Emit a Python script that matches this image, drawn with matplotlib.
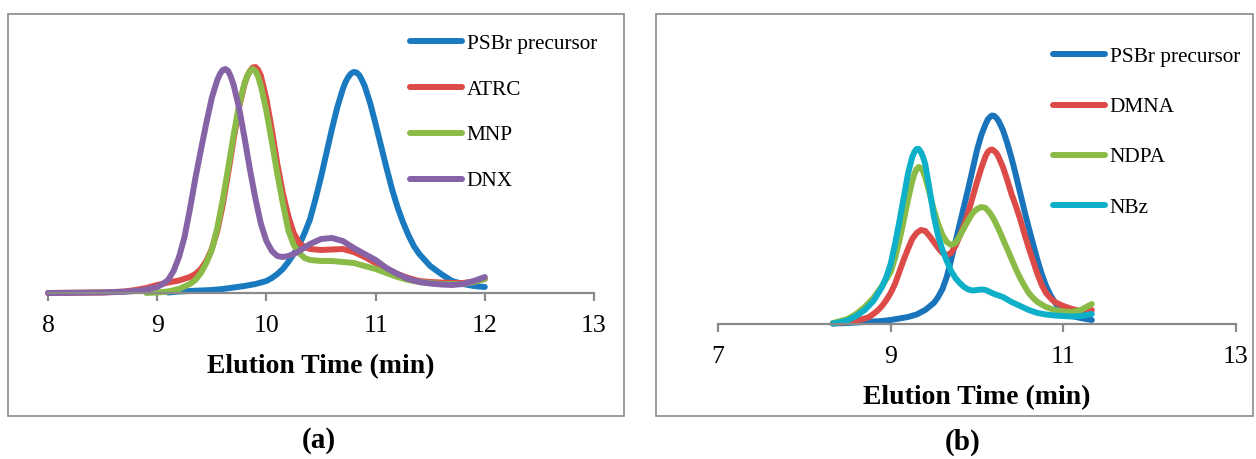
import matplotlib
matplotlib.use("Agg")
import matplotlib.pyplot as plt
from matplotlib.patches import Rectangle

plt.rcParams['font.family'] = ['Liberation Serif', 'DejaVu Serif']

# ---------------- Panel (a) data ----------------
a_labels = ["PSBr precursor", "ATRC", "MNP", "DNX"]

a_psbr_x = [9.1, 9.2, 9.3, 9.4, 9.5, 9.6, 9.7, 9.8, 9.9, 10.0, 10.05, 10.1, 10.15, 10.2, 10.25,
            10.3, 10.35, 10.4, 10.45, 10.5, 10.55, 10.6, 10.65, 10.7, 10.725, 10.75, 10.775, 10.8,
            10.825, 10.85, 10.875, 10.9, 10.95, 11.0, 11.05, 11.1, 11.15, 11.2, 11.25, 11.3, 11.35,
            11.4, 11.5, 11.6, 11.7, 11.8, 11.9, 12.0]
a_psbr_y = [0.5, 1.5, 2, 2.5, 3, 4, 5.5, 7, 9, 12, 15, 19, 24, 31, 39,
            48, 60, 74, 94, 116, 140, 164, 186, 204, 211, 216, 219.5, 221,
            220.5, 218, 213, 207, 190, 169, 147, 125, 104, 86, 71, 58, 47,
            39, 27, 19, 12, 9, 7, 6]

a_atrc_x = [8.0, 8.5, 8.7, 8.8, 8.9, 9.0, 9.1, 9.2, 9.3, 9.35, 9.4, 9.45, 9.5, 9.55, 9.6, 9.65,
            9.7, 9.75, 9.8, 9.825, 9.85, 9.875, 9.9, 9.925, 9.95, 10.0, 10.05, 10.1, 10.15, 10.2,
            10.25, 10.3, 10.35, 10.4, 10.5, 10.6, 10.7, 10.8, 10.9, 11.0, 11.1, 11.2, 11.3, 11.4,
            11.5, 11.6, 11.7, 11.8, 11.9, 12.0]
a_atrc_y = [0, 0.5, 1.5, 3, 5, 8, 10.5, 12.5, 16, 19, 24, 32, 44, 62, 88, 120,
            154, 186, 209, 217, 222, 225.5, 226, 223, 217, 194, 163, 129, 100, 77,
            60, 50, 46, 44, 43, 43.5, 44, 41, 36, 30, 24, 19, 15, 12,
            11, 10.5, 10, 10, 11.5, 14]

a_mnp_x = [8.9, 9.0, 9.1, 9.2, 9.3, 9.35, 9.4, 9.45, 9.5, 9.55, 9.6, 9.65, 9.7, 9.75, 9.8, 9.825,
           9.85, 9.875, 9.9, 9.925, 9.95, 10.0, 10.05, 10.1, 10.15, 10.2, 10.25, 10.3, 10.35, 10.4,
           10.5, 10.6, 10.7, 10.8, 10.9, 11.0, 11.1, 11.2, 11.3, 11.4, 11.5, 11.6, 11.7, 11.8,
           11.9, 12.0]
a_mnp_y = [0, 0.5, 1.5, 4, 9, 13, 20, 30, 43, 65, 93, 125, 158, 188, 210, 217,
           222, 224, 222, 216, 207, 182, 151, 119, 90, 63, 48, 40, 35, 33,
           32, 32, 31, 30, 27, 24, 20, 16, 13, 11, 10, 9, 9, 9,
           11, 14]

a_dnx_x = [8.0, 8.3, 8.5, 8.7, 8.8, 8.9, 9.0, 9.05, 9.1, 9.15, 9.2, 9.25, 9.3, 9.35, 9.4, 9.45,
           9.5, 9.55, 9.575, 9.6, 9.625, 9.65, 9.675, 9.7, 9.75, 9.8, 9.85, 9.9, 9.95, 10.0, 10.05,
           10.1, 10.15, 10.2, 10.25, 10.3, 10.4, 10.5, 10.6, 10.7, 10.8, 10.9, 11.0, 11.1, 11.2,
           11.3, 11.4, 11.5, 11.6, 11.7, 11.8, 11.9, 12.0]
a_dnx_y = [0, 0.3, 0.6, 1.2, 2, 3.5, 6, 9, 13, 22, 36, 56, 84, 115, 143, 170,
           195, 213, 219, 223, 224, 222, 216, 208, 185, 155, 123, 94, 69, 52, 42,
           37, 36, 37, 39, 42, 49, 54, 55, 52, 45, 39, 33, 25, 19,
           14, 11, 9.5, 8.5, 8, 9, 12, 16]

a_ticks = [8, 9, 10, 11, 12, 13]

# ---------------- Panel (b) data ----------------
b_labels = ["PSBr precursor", "DMNA", "NDPA", "NBz"]

b_psbr_x = [8.33, 8.5, 8.7, 8.9, 9.0, 9.1, 9.2, 9.3, 9.4, 9.5, 9.55, 9.6, 9.65, 9.7, 9.75, 9.8,
            9.85, 9.9, 9.95, 10.0, 10.05, 10.1, 10.125, 10.15, 10.175, 10.2, 10.225, 10.25, 10.3,
            10.35, 10.4, 10.45, 10.5, 10.55, 10.6, 10.65, 10.7, 10.75, 10.8, 10.85, 10.9, 10.95,
            11.0, 11.05, 11.1, 11.2, 11.33]
b_psbr_y = [0.5, 1, 2, 3, 4, 5.5, 7, 9.5, 14, 21, 27, 35, 47, 64, 82, 100,
            118, 136, 155, 174, 189, 200, 204.5, 207, 208.5, 208, 206, 203, 194,
            181, 166, 149, 131, 113, 96, 80, 64, 50, 38, 29, 22, 16,
            12, 9.5, 8, 6, 4]

b_dmna_x = [8.33, 8.5, 8.6, 8.7, 8.75, 8.8, 8.85, 8.9, 8.95, 9.0, 9.05, 9.1, 9.15, 9.2, 9.25,
            9.3, 9.35, 9.4, 9.45, 9.5, 9.55, 9.6, 9.65, 9.7, 9.75, 9.8, 9.85, 9.9, 9.95, 10.0,
            10.05, 10.1, 10.125, 10.15, 10.175, 10.2, 10.225, 10.25, 10.3, 10.35, 10.4, 10.45,
            10.5, 10.55, 10.6, 10.65, 10.7, 10.75, 10.8, 10.85, 10.9, 10.95, 11.0, 11.1, 11.2,
            11.33]
b_dmna_y = [0.5, 2, 3.5, 5.5, 7, 10, 13.5, 18, 24, 31, 40, 52, 64, 75, 85,
            91, 94, 93, 88, 82, 76, 71, 69, 71, 78, 88, 99, 112, 127, 142,
            156, 168, 172, 174, 174.5, 173, 171, 167, 157, 144, 130, 118,
            105, 90, 76, 63, 50, 39, 31, 26, 22, 20, 18, 15, 13,
            14]

b_ndpa_x = [8.33, 8.4, 8.5, 8.6, 8.7, 8.8, 8.9, 9.0, 9.05, 9.1, 9.15, 9.2, 9.25, 9.275, 9.3,
            9.325, 9.35, 9.375, 9.4, 9.45, 9.5, 9.55, 9.6, 9.65, 9.7, 9.75, 9.8, 9.85, 9.9, 9.95,
            10.0, 10.05, 10.1, 10.15, 10.2, 10.25, 10.3, 10.35, 10.4, 10.45, 10.5, 10.55, 10.6,
            10.65, 10.7, 10.8, 10.9, 11.0, 11.1, 11.2, 11.33]
b_ndpa_y = [1, 2.5, 5, 10, 17, 26, 38, 52, 66, 83, 103, 124, 143, 150, 155,
            157, 156, 152.5, 147, 131, 114, 100, 89, 82, 79, 81, 88, 96, 104, 111,
            115, 117, 116, 111, 104, 95, 85, 75, 65, 55, 46, 38, 31,
            26, 22, 17, 14, 12.5, 12, 14, 20]

b_nbz_x = [8.33, 8.4, 8.5, 8.6, 8.7, 8.8, 8.9, 8.95, 9.0, 9.05, 9.1, 9.15, 9.2, 9.25, 9.275,
           9.3, 9.325, 9.35, 9.375, 9.4, 9.45, 9.5, 9.55, 9.6, 9.65, 9.7, 9.75, 9.8, 9.85, 9.9,
           9.95, 10.0, 10.05, 10.1, 10.15, 10.2, 10.3, 10.4, 10.5, 10.6, 10.7, 10.8, 10.9, 11.0,
           11.1, 11.2, 11.33]
b_nbz_y = [0.5, 1.5, 3.5, 8, 14, 23, 37, 47, 60, 80, 102, 126, 150, 167, 172,
           175, 175, 172, 167, 160, 135, 108, 88, 74, 63, 53, 46, 41, 37, 34.5,
           33.5, 34, 34.5, 34, 32, 30, 27, 22, 18, 14, 11, 9.5, 8.5, 8,
           7.5, 8, 10]

b_ticks = [7, 9, 11, 13]

# ---------------- styling ----------------
C_BLUE = '#1a7abf'
C_BLUE_B = '#1a74bb'
C_RED = '#dc4b47'
C_GREEN = '#8bbb47'
C_PURPLE = '#8663a7'
C_CYAN = '#0db0c8'
GRAY = '#8a8a8a'
LW = 4.3

W, H = 1256, 459
fig = plt.figure(figsize=(W / 100, H / 100), dpi=100)


def px_axes(x0, x1, ybase, ytop):
    return fig.add_axes([x0 / W, (H - ybase) / H, (x1 - x0) / W, (ybase - ytop) / H])


def style(ax, xlim, ticks):
    ax.set_xlim(*xlim)
    ax.set_ylim(0, 253)
    ax.set_xticks(ticks)
    ax.set_yticks([])
    for s in ['left', 'right', 'top']:
        ax.spines[s].set_visible(False)
    ax.spines['bottom'].set_color(GRAY)
    ax.spines['bottom'].set_linewidth(1.6)
    ax.tick_params(axis='x', direction='out', length=6, width=1.6, color=GRAY,
                   labelsize=18.5, pad=10, labelcolor='black')
    ax.patch.set_alpha(0)


# Borders
fig.patches.append(Rectangle((8 / W, (H - 416) / H), 616 / W, 402 / H, transform=fig.transFigure,
                             fill=False, edgecolor=GRAY, linewidth=1.2))
fig.patches.append(Rectangle((656 / W, (H - 416) / H), 597 / W, 402 / H, transform=fig.transFigure,
                             fill=False, edgecolor=GRAY, linewidth=1.2))

kw = dict(lw=LW, solid_capstyle='round', solid_joinstyle='round', clip_on=False)

# Panel a
axa = px_axes(48, 594, 293, 40)
style(axa, (8, 13), a_ticks)
la = []
la += axa.plot(a_psbr_x, a_psbr_y, color=C_BLUE, **kw)
la += axa.plot(a_atrc_x, a_atrc_y, color=C_RED, **kw)
la += axa.plot(a_mnp_x, a_mnp_y, color=C_GREEN, **kw)
la += axa.plot(a_dnx_x, a_dnx_y, color=C_PURPLE, **kw)
axa.set_xlabel("Elution Time (min)", fontsize=20, fontweight='bold')
axa.xaxis.set_label_coords(0.5, -(367 - 293) / 253)
axa.xaxis.label.set_va('center')
fig.legend(la, a_labels, loc='upper left', bbox_to_anchor=(410 / W, 1 - 34 / H),
           bbox_transform=fig.transFigure, frameon=False, fontsize=15.3,
           handlelength=2.45, handletextpad=0.22, labelspacing=1.22,
           borderpad=0, borderaxespad=0)

# Panel b
axb = px_axes(718, 1236, 324, 71)
style(axb, (7, 13), b_ticks)
lb = []
lb += axb.plot(b_psbr_x, b_psbr_y, color=C_BLUE_B, **kw)
lb += axb.plot(b_dmna_x, b_dmna_y, color=C_RED, **kw)
lb += axb.plot(b_ndpa_x, b_ndpa_y, color=C_GREEN, **kw)
lb += axb.plot(b_nbz_x, b_nbz_y, color=C_CYAN, **kw)
axb.set_xlabel("Elution Time (min)", fontsize=20, fontweight='bold')
axb.xaxis.set_label_coords(0.5, -(398 - 324) / 253)
axb.xaxis.label.set_va('center')
fig.legend(lb, b_labels, loc='upper left', bbox_to_anchor=(1053 / W, 1 - 47 / H),
           bbox_transform=fig.transFigure, frameon=False, fontsize=15.3,
           handlelength=2.45, handletextpad=0.22, labelspacing=1.43,
           borderpad=0, borderaxespad=0)

# Captions
fig.text(318.5 / W, 1 - 441 / H, "(a)", fontsize=21, fontweight='bold', ha='center', va='center')
fig.text(963 / W, 1 - 442 / H, "(b)", fontsize=21, fontweight='bold', ha='center', va='center')

fig.savefig("out.png", dpi=100)
